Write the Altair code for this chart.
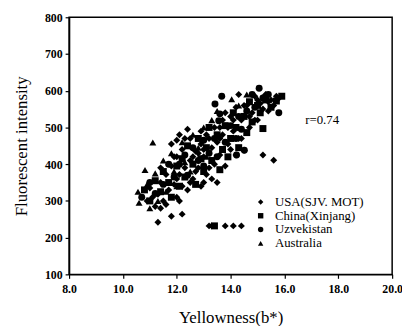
import altair as alt
import pandas as pd

countries = ["USA(SJV. MOT)", "China(Xinjang)", "Uzvekistan", "Australia"]
shapes = ["diamond", "square", "circle", "triangle-up"]

usa_x = [10.9, 11.0, 11.2, 11.3, 11.3, 11.4, 11.5, 11.6, 11.7, 11.8, 11.8, 11.9, 12.0, 12.0, 12.1, 12.2, 12.2, 12.3, 12.4, 12.5,
         12.5, 12.6, 12.7, 12.8, 12.9, 12.9, 13.0, 13.1, 13.1, 13.2, 13.3, 13.3, 13.4, 13.4, 13.5, 13.5, 13.6, 13.7, 13.7, 13.8,
         13.8, 13.9, 14.0, 14.1, 14.1, 14.2, 14.2, 14.3, 14.4, 14.4, 14.5, 14.6, 14.7, 14.8, 14.9, 15.0, 15.1, 15.2, 15.3, 15.4,
         15.5, 15.6, 15.6, 15.7, 15.8, 12.1, 12.4, 11.8, 12.0,
         11.4, 11.6, 11.9, 12.0, 12.2, 12.3, 12.5, 12.6, 12.7, 12.8, 13.0, 13.0, 13.2, 13.2, 13.3, 13.6, 13.6, 13.9, 14.0, 14.1,
         14.4, 14.5, 14.7, 14.9, 15.0, 15.2, 15.4, 11.1, 11.4, 12.1, 12.9, 13.8, 14.3]
usa_y = [300, 335, 285, 242, 318, 350, 300, 372, 330, 258, 395, 345, 310, 420, 372, 264, 440, 390, 330, 410,
         470, 360, 435, 390, 455, 340, 420, 480, 372, 232, 232, 445, 400, 500, 460, 350, 425, 520, 480, 232,
         395, 455, 530, 232, 490, 425, 555, 470, 232, 520, 438, 560, 500, 540, 585, 520, 565, 425, 590, 545,
         575, 411, 560, 585, 580, 480, 495, 455, 465,
         390, 290, 420, 360, 340, 470, 350, 420, 380, 430, 350, 440, 470, 390, 360, 470, 500, 500, 440, 520,
         470, 560, 530, 520, 575, 550, 570, 310, 280, 300, 490, 540, 590]

china_x = [10.8, 11.0, 11.2, 11.4, 11.5, 11.7, 11.8, 12.0, 12.1, 12.2, 12.3, 12.4, 12.6, 12.7, 12.8, 12.9, 13.0, 13.1, 13.2, 13.3,
           13.4, 13.5, 13.6, 13.7, 13.8, 13.9, 14.0, 14.1, 14.2, 14.3, 14.5, 14.6, 14.7, 14.8, 15.0, 15.1, 15.2, 15.3, 15.5, 15.7, 15.9]
china_y = [330, 300, 355, 325, 380, 350, 310, 395, 340, 415, 365, 450, 400, 345, 470, 415, 380, 445, 500, 410,
           232, 480, 385, 440, 505, 420, 470, 540, 500, 445, 530, 486, 570, 515, 560, 540, 497, 575, 555, 572, 585]

uzb_x = [10.7, 11.0, 11.2, 11.5, 11.7, 11.9, 12.1, 12.3, 12.4, 12.6, 12.8, 13.0, 13.0, 13.2, 13.4, 13.5, 13.42, 13.6, 13.56, 13.67,
         13.8, 14.0, 14.2, 14.3, 14.4, 14.6, 14.8, 14.9, 15.06, 15.2, 15.4, 15.79, 14.51, 14.22]
uzb_y = [310, 350, 320, 345, 400, 365, 400, 425, 370, 445, 410, 465, 395, 430, 470, 420, 564, 537, 518, 585,
         460, 505, 470, 530, 495, 545, 590, 555, 607, 580, 590, 540, 438, 425]

aus_x = [10.56, 10.6, 10.82, 10.9, 11.0, 11.11, 11.2, 11.3, 11.5, 11.6, 11.8, 11.9, 12.0, 12.2, 12.3, 12.5, 12.6, 12.8, 13.0, 13.1,
         13.3, 13.5, 14.04, 14.3, 14.6]
aus_y = [325, 295, 384, 345, 280, 459, 375, 300, 410, 325, 430, 380, 340, 460, 405, 380, 480, 445, 500, 420,
         520, 545, 577, 560, 590]

x_ticks = [8, 10, 12, 14, 16, 18, 20]
y_ticks = [100, 200, 300, 400, 500, 600, 700, 800]

ann_x = [17.4]
ann_y = [520]
ann_text = ["r=0.74"]

rows = []
for name, xs, ys in zip(countries, [usa_x, china_x, uzb_x, aus_x], [usa_y, china_y, uzb_y, aus_y]):
    for a, b in zip(xs, ys):
        rows.append({"x": a, "y": b, "country": name})
df = pd.DataFrame(rows)
ann = pd.DataFrame({"x": ann_x, "y": ann_y, "t": ann_text})

FONT = "Liberation Serif"

xscale = alt.Scale(domain=[8, 20], nice=False, zero=False)
yscale = alt.Scale(domain=[100, 800], nice=False, zero=False)
x_axis = alt.Axis(title="Yellowness(b*)", values=x_ticks, format=".1f",
                  titlePadding=16, labelPadding=5, labelOverlap=False, labelFlush=False)
y_axis = alt.Axis(title="Fluorescent intensity", values=y_ticks, format="d",
                  titlePadding=14, labelPadding=3, labelOverlap=False, labelFlush=False)

points = alt.Chart(df).mark_point(filled=True, opacity=1, color="black", size=50).encode(
    x=alt.X("x:Q", scale=xscale, axis=x_axis),
    y=alt.Y("y:Q", scale=yscale, axis=y_axis),
    shape=alt.Shape("country:N", scale=alt.Scale(domain=countries, range=shapes),
                    legend=alt.Legend(title=None, orient="none", legendX=188, legendY=181,
                                      labelFont=FONT, labelFontSize=13, labelColor="black",
                                      symbolFillColor="black", symbolStrokeColor="black",
                                      symbolSize=30, rowPadding=0, padding=0, labelOffset=8)),
)

text = alt.Chart(ann).mark_text(font=FONT, fontSize=13, color="black").encode(
    x=alt.X("x:Q", scale=xscale, axis=x_axis), y=alt.Y("y:Q", scale=yscale, axis=y_axis), text="t:N"
)

chart = alt.layer(points, text).properties(
    width=328, height=261,
    autosize=alt.AutoSizeParams(type="none"),
    padding={"left": 62, "top": 7, "right": 10, "bottom": 50},
).configure_view(stroke="black", strokeWidth=1.5).configure_axis(
    grid=False, domainColor="black", domainWidth=1.5, tickColor="black", tickSize=4, tickWidth=1.2,
    labelFont=FONT, labelFontWeight="bold", labelFontSize=12, labelColor="black",
    titleFont=FONT, titleFontWeight="normal", titleFontSize=17, titleColor="black",
)

chart.save("out.html", embed_options={"renderer": "svg", "actions": False})
